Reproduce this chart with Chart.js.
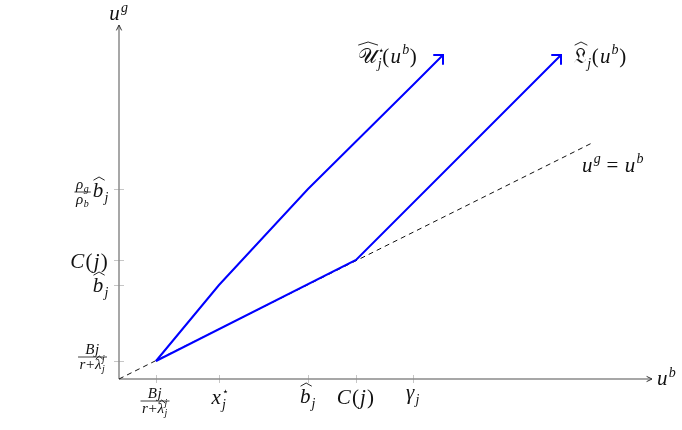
<!DOCTYPE html>
<html>
<head>
<meta charset="utf-8">
<script src="https://cdn.jsdelivr.net/npm/chart.js@4.4.1/dist/chart.umd.min.js"></script>
<style>
  html, body { margin: 0; padding: 0; background: #fff; }
</style>
</head>
<body>
<canvas id="diagram" width="682" height="430"></canvas>
<script>
// axis extents (data units)
const xMax = 53.3;
const yMax = 70.8;

// tick positions and their labels
const xTicks = [3.7, 10, 18.9, 23.7, 29.4];
const xTickLabels = ['Bj/(r+λ)', 'x*', 'b̂', 'C(j)', 'γ'];
const yTicks = [3.6, 18.8, 23.8, 38];
const yTickLabels = ['Bj/(r+λ)', 'b̂', 'C(j)', 'ρg/ρb b̂'];

// the curves
const upperX = [3.7, 10, 18.9, 29.4, 32.4];
const upperY = [3.6, 18.8, 38, 58.8, 64.8];
const lowerX = [3.7, 23.7, 44.2];
const lowerY = [3.6, 23.8, 64.8];
const diagX = [0, 47.3];
const diagY = [0, 47.2];

const SERIF = '"Liberation Serif", "DejaVu Serif", "DejaVu Sans", serif';
const M = 21;  // main text size
const S = 14;  // script size
const F = 15;  // fraction text size
const FS = 10; // scripts inside fractions

const it = (s, size = M, dy = 0, extra = {}) => Object.assign({ s, size, dy, italic: true }, extra);
const up = (s, size = M, dy = 0, extra = {}) => Object.assign({ s, size, dy, italic: false }, extra);

const smallFrac = {
  frac: {
    num: [it('B', F), it('j', F)],
    den: [it('r', F), up('+', F), it('λ', F, 0, { hat: 13 }), it('j', FS, -7, { stay: true }), it('j', FS, 3)]
  }
};

// how each label string is typeset
const typeset = {
  'Bj/(r+λ)': [smallFrac],
  'x*': [it('x'), up('⋆', 11, -9, { stay: true }), it('j', S, 5)],
  'b̂': [it('b', M, 0, { hat: 20 }), it('j', S, 5)],
  'C(j)': [it('C'), up('('), it('j'), up(')')],
  'γ': [it('γ'), it('j', S, 5)],
  'ρg/ρb b̂': [
    { frac: { num: [it('ρ', F), it('g', FS, 3)], den: [it('ρ', F), it('b', FS, 3)] } },
    it('b', M, 0, { hat: 20 }), it('j', S, 5)
  ]
};

// baseline offsets of tick labels
const xLabelDrop = { 'Bj/(r+λ)': 27, 'x*': 25, 'b̂': 24, 'C(j)': 25, 'γ': 20 };
const yLabelDrop = { 'Bj/(r+λ)': 1, 'b̂': 7, 'C(j)': 8, 'ρg/ρb b̂': 8 };

const upperLabel = [up('𝒰', M, 0, { hat: 21 }), up('⋆', 11, -9, { stay: true }), it('j', S, 5),
  up('('), it('u'), it('b', S, -9), up(')')];
const lowerLabel = [up('𝔏', M, 0, { hat: 21 }), it('j', S, 5), up('('), it('u'), it('b', S, -9), up(')')];
const diagLabel = [it('u'), it('g', S, -9), up(' = '), it('u'), it('b', S, -9)];

function fontOf(item) {
  return (item.italic ? 'italic ' : '') + item.size + 'px ' + SERIF;
}

function kernOf(item) {
  return item.size >= M ? 1.2 : 0.6;
}

function fracWidth(ctx, item) {
  return Math.max(runsWidth(ctx, item.frac.num), runsWidth(ctx, item.frac.den)) + 3;
}

function itemWidth(ctx, item) {
  if (item.frac) return fracWidth(ctx, item) + 2;
  if (item.stay) return 0;
  ctx.font = fontOf(item);
  return ctx.measureText(item.s).width + kernOf(item);
}

function runsWidth(ctx, items) {
  return items.reduce((w, item) => w + itemWidth(ctx, item), 0);
}

function drawRuns(ctx, items, x, y) {
  let cx = x;
  items.forEach(item => {
    if (item.frac) {
      const w = fracWidth(ctx, item);
      const bar = y - 5;
      const wn = runsWidth(ctx, item.frac.num);
      const wd = runsWidth(ctx, item.frac.den);
      drawRuns(ctx, item.frac.num, cx + (w - wn) / 2, bar - 3);
      drawRuns(ctx, item.frac.den, cx + (w - wd) / 2, bar + 12);
      ctx.fillRect(cx, bar - 0.4, w, 0.8);
      cx += w + 2;
      return;
    }
    ctx.font = fontOf(item);
    const w = ctx.measureText(item.s).width;
    ctx.fillText(item.s, cx, y + item.dy);
    if (item.hat) {
      const top = y + item.dy - item.hat;
      const hx = cx + 1;
      ctx.beginPath();
      ctx.moveTo(hx, top + 3);
      ctx.lineTo(hx + w / 2, top);
      ctx.lineTo(hx + w, top + 3);
      ctx.lineWidth = 0.9;
      ctx.stroke();
    }
    if (!item.stay) cx += w + kernOf(item);
  });
  return cx - x;
}

function drawLabel(ctx, items, x, y, align) {
  const w = runsWidth(ctx, items);
  const left = align === 'right' ? x - w : align === 'center' ? x - w / 2 : x;
  drawRuns(ctx, items, left, y);
}

function arrowHead(ctx, tx, ty, angle, len, spread) {
  ctx.beginPath();
  ctx.moveTo(tx - len * Math.cos(angle - spread), ty - len * Math.sin(angle - spread));
  ctx.lineTo(tx, ty);
  ctx.lineTo(tx - len * Math.cos(angle + spread), ty - len * Math.sin(angle + spread));
  ctx.stroke();
}

function lastPixels(chart, index) {
  const pts = chart.getDatasetMeta(index).data;
  const a = pts[pts.length - 2], b = pts[pts.length - 1];
  return { x: b.x, y: b.y, angle: Math.atan2(b.y - a.y, b.x - a.x) };
}

const diagramPlugin = {
  id: 'diagram',
  beforeDatasetsDraw(chart) {
    const { ctx, scales: { x, y } } = chart;
    const x0 = x.getPixelForValue(0), y0 = y.getPixelForValue(0);
    const xe = x.getPixelForValue(xMax), ye = y.getPixelForValue(yMax);
    ctx.save();
    // tick marks
    ctx.strokeStyle = '#c6c6c6';
    ctx.lineWidth = 1;
    xTicks.forEach(v => {
      const px = Math.round(x.getPixelForValue(v)) + 0.5;
      ctx.beginPath(); ctx.moveTo(px, y0 - 4); ctx.lineTo(px, y0 + 4); ctx.stroke();
    });
    yTicks.forEach(v => {
      const py = Math.round(y.getPixelForValue(v)) + 0.5;
      ctx.beginPath(); ctx.moveTo(x0 - 5, py); ctx.lineTo(x0 + 5, py); ctx.stroke();
    });
    // axes
    ctx.strokeStyle = '#8a8a8a';
    ctx.lineWidth = 1.5;
    ctx.beginPath(); ctx.moveTo(x0, y0); ctx.lineTo(xe, y0); ctx.stroke();
    ctx.beginPath(); ctx.moveTo(x0, y0); ctx.lineTo(x0, ye); ctx.stroke();
    ctx.strokeStyle = '#333';
    ctx.lineWidth = 1;
    arrowHead(ctx, xe, y0, 0, 6, 0.45);
    arrowHead(ctx, x0, ye, -Math.PI / 2, 6, 0.45);
    ctx.restore();
  },
  afterDatasetsDraw(chart) {
    const { ctx, scales: { x, y } } = chart;
    const x0 = x.getPixelForValue(0), y0 = y.getPixelForValue(0);
    ctx.save();
    // blue arrow tips
    ctx.strokeStyle = '#0000ff';
    ctx.lineWidth = 2;
    ctx.lineCap = 'round';
    const uTip = lastPixels(chart, 0);
    const lTip = lastPixels(chart, 1);
    arrowHead(ctx, uTip.x, uTip.y, uTip.angle, 9, Math.PI / 4);
    arrowHead(ctx, lTip.x, lTip.y, lTip.angle, 9, Math.PI / 4);

    ctx.fillStyle = '#111';
    ctx.strokeStyle = '#111';
    ctx.textBaseline = 'alphabetic';
    ctx.textAlign = 'left';
    // tick labels
    xTicks.forEach((v, i) => {
      const key = xTickLabels[i];
      drawLabel(ctx, typeset[key], x.getPixelForValue(v), y0 + xLabelDrop[key], 'center');
    });
    yTicks.forEach((v, i) => {
      const key = yTickLabels[i];
      drawLabel(ctx, typeset[key], x0 - 10, y.getPixelForValue(v) + yLabelDrop[key], 'right');
    });
    // axis names
    drawLabel(ctx, [it('u'), it('g', S, -8)], x0, y.getPixelForValue(yMax) - 5, 'center');
    drawLabel(ctx, [it('u'), it('b', S, -8)], x.getPixelForValue(xMax) + 5, y0 + 6, 'left');
    // curve names
    drawLabel(ctx, upperLabel, uTip.x - 25, uTip.y + 8, 'right');
    drawLabel(ctx, lowerLabel, lTip.x + 13, lTip.y + 8, 'left');
    const dEnd = chart.getDatasetMeta(2).data[1];
    drawLabel(ctx, diagLabel, dEnd.x - 10, dEnd.y + 29, 'left');
    ctx.restore();
  }
};

const toPoints = (xs, ys) => xs.map((v, i) => ({ x: v, y: ys[i] }));

new Chart(document.getElementById('diagram'), {
  type: 'scatter',
  data: {
    datasets: [
      { data: toPoints(upperX, upperY), borderColor: '#0000ff', borderWidth: 2 },
      { data: toPoints(lowerX, lowerY), borderColor: '#0000ff', borderWidth: 2 },
      { data: toPoints(diagX, diagY), borderColor: '#111', borderWidth: 1, borderDash: [5, 4] }
    ].map(ds => Object.assign(ds, { showLine: true, pointRadius: 0, tension: 0, clip: false, fill: false }))
  },
  options: {
    responsive: false,
    animation: false,
    layout: { padding: { left: 119, right: 30, top: 25, bottom: 51 } },
    plugins: { legend: { display: false }, tooltip: { enabled: false } },
    scales: {
      x: { type: 'linear', display: false, min: 0, max: xMax },
      y: { type: 'linear', display: false, min: 0, max: yMax }
    }
  },
  plugins: [diagramPlugin]
});
</script>
</body>
</html>
